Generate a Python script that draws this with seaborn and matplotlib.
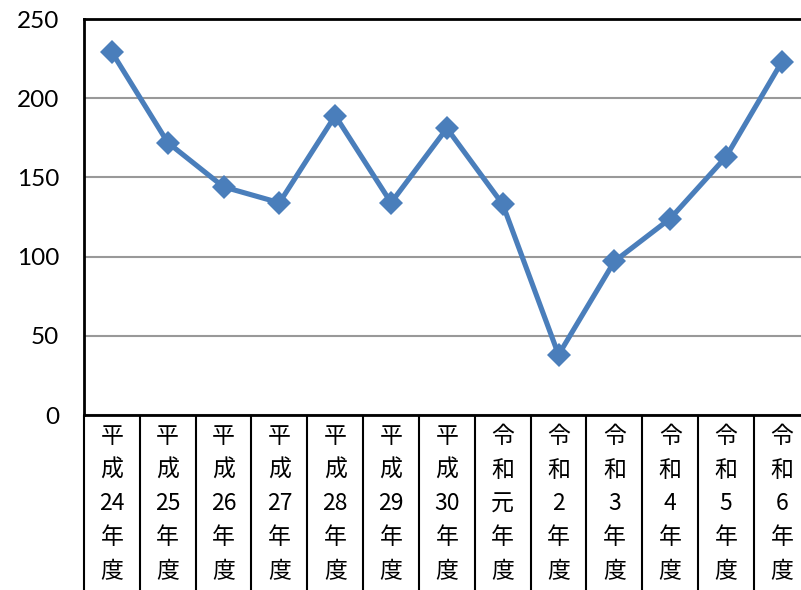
import numpy as np
import pandas as pd
import matplotlib
matplotlib.use("Agg")
import matplotlib.pyplot as plt
from matplotlib.ticker import FixedLocator
import seaborn as sns

sns.set_style("white")
plt.rcParams['font.family'] = ['Noto Sans CJK JP', 'DejaVu Sans']

# fiscal years (vertical stacked labels)
years = ["平成24年度", "平成25年度", "平成26年度", "平成27年度", "平成28年度",
         "平成29年度", "平成30年度", "令和元年度", "令和2年度", "令和3年度",
         "令和4年度", "令和5年度", "令和6年度"]
values = [229, 172, 144, 134, 189, 134, 181, 133, 38, 97, 124, 163, 223]
yticks = [0, 50, 100, 150, 200, 250]


def stack(label):
    # split into vertical lines, keep digits together
    parts = []
    buf = ""
    for ch in label:
        if ch.isdigit():
            buf += ch
        else:
            if buf:
                parts.append(buf)
                buf = ""
            parts.append(ch)
    if buf:
        parts.append(buf)
    return "\n".join(parts)


labels = [stack(y) for y in years]
df = pd.DataFrame(dict(pos=np.arange(len(values)), value=values))

W, H = 801, 590
fig = plt.figure(figsize=(W / 100, H / 100), dpi=100)
left, top, bottom = 84, 19, 415
cat_w = 55.83
ax = fig.add_axes([left / W, (H - bottom) / H, len(values) * cat_w / W, (bottom - top) / H])

sns.lineplot(data=df, x="pos", y="value", ax=ax, color="#4A7EBB", linewidth=3.7,
             marker="D", markersize=12, markeredgewidth=0, clip_on=False)

ax.set_xlim(-0.5, len(values) - 0.5)
ax.set_ylim(0, 250)
ax.set_yticks(yticks)
ax.set_yticklabels([str(v) for v in yticks], fontsize=17.5, color="black",
                   family=['Lato', 'DejaVu Sans'])
ax.set_xticks(df["pos"])
ax.set_xticklabels(labels, fontsize=16.5, linespacing=1.6, va="top", color="black")
ax.xaxis.set_minor_locator(FixedLocator(np.arange(-0.5, len(values), 1.0)))
ax.tick_params(axis="x", which="major", length=0, pad=7)
ax.tick_params(axis="x", which="minor", bottom=True, length=130, width=1.5,
               color="black", direction="out")
ax.tick_params(axis="y", length=0, pad=18)

ax.grid(axis="y", color="#999999", linewidth=1.5)
ax.grid(axis="x", visible=False)
for s in ["left", "bottom", "top"]:
    ax.spines[s].set_color("black")
    ax.spines[s].set_linewidth(2)
ax.spines["right"].set_visible(False)
ax.set_xlabel("")
ax.set_ylabel("")

fig.savefig("out.png", dpi=100)
